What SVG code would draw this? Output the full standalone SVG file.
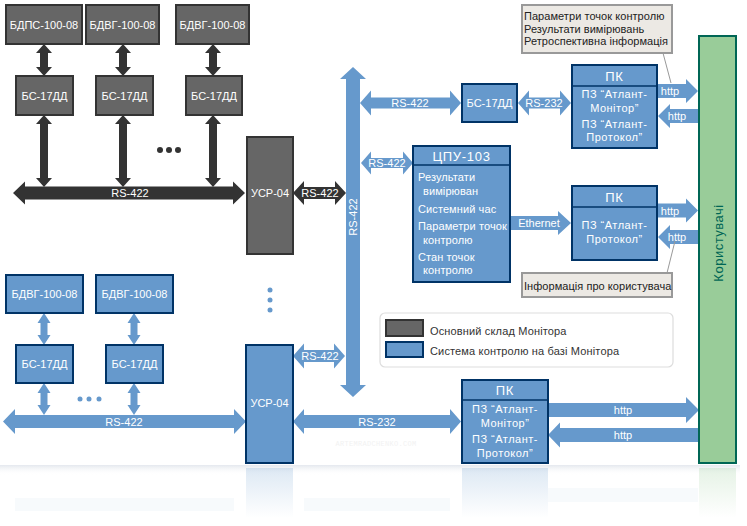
<svg xmlns="http://www.w3.org/2000/svg" width="747" height="526" viewBox="0 0 747 526">
<defs>
<style>
.dk{fill:#666;stroke:#333;stroke-width:2}
.bl{fill:#6699cc;stroke:#003366;stroke-width:2}
.da{fill:#333}
.ba{fill:#6699cc}
.t{font-family:"Liberation Sans",Arial,sans-serif;font-size:11px;fill:#fff;text-anchor:middle;dominant-baseline:central}
.tl{font-family:"Liberation Sans",Arial,sans-serif;font-size:11px;fill:#fff;dominant-baseline:central;letter-spacing:0.1px}
.pk{font-family:"Liberation Sans",Arial,sans-serif;font-size:11px;fill:#fff;text-anchor:middle;dominant-baseline:central;letter-spacing:0.5px}
.hd{font-family:"Liberation Sans",Arial,sans-serif;font-size:13px;fill:#fff;text-anchor:middle;dominant-baseline:central;letter-spacing:0.7px}
.co{fill:#ece9e4;stroke:#999;stroke-width:2}
.ct{font-family:"Liberation Sans",Arial,sans-serif;font-size:11px;fill:#222;dominant-baseline:central;letter-spacing:0.05px}
.lg{font-family:"Liberation Sans",Arial,sans-serif;font-size:11px;fill:#333;dominant-baseline:central;letter-spacing:0.15px}
</style>
<linearGradient id="rf" x1="0" y1="0" x2="0" y2="1">
<stop offset="0" stop-color="#6699cc" stop-opacity="0.22"/>
<stop offset="1" stop-color="#6699cc" stop-opacity="0"/>
</linearGradient>
<linearGradient id="rg" x1="0" y1="0" x2="0" y2="1">
<stop offset="0" stop-color="#99cc99" stop-opacity="0.25"/>
<stop offset="1" stop-color="#99cc99" stop-opacity="0"/>
</linearGradient>
<linearGradient id="sh" x1="0" y1="0" x2="0" y2="1">
<stop offset="0" stop-color="#e4e8ee" stop-opacity="1"/>
<stop offset="1" stop-color="#ffffff" stop-opacity="0"/>
</linearGradient>
</defs>
<rect width="747" height="526" fill="#fff"/>

<g id="reflection">
<rect x="0" y="465" width="740" height="10" fill="url(#sh)"/>
<rect x="246" y="468" width="47" height="50" fill="url(#rf)"/>
<rect x="462" y="468" width="86" height="50" fill="url(#rf)"/>
<rect x="699" y="468" width="37" height="50" fill="url(#rg)"/>
<rect x="15" y="498" width="219" height="13" fill="#6699cc" opacity="0.05"/>
<rect x="304" y="498" width="146" height="13" fill="#6699cc" opacity="0.05"/>
<rect x="548" y="488" width="150" height="14" fill="#6699cc" opacity="0.05"/>
</g>

<g id="connectors">
<polygon class="da" points="44,44 52,53 48,53 48,67 52,67 44,76 36,67 40,67 40,53 36,53"/>
<polygon class="da" points="123,44 131,53 127,53 127,67 131,67 123,76 115,67 119,67 119,53 115,53"/>
<polygon class="da" points="213,44 221,53 217,53 217,67 221,67 213,76 205,67 209,67 209,53 205,53"/>
<polygon class="da" points="44,115 52,124 48,124 48,178 52,178 44,187 36,178 40,178 40,124 36,124"/>
<polygon class="da" points="123,115 131,124 127,124 127,178 131,178 123,187 115,178 119,178 119,124 115,124"/>
<polygon class="da" points="213,115 221,124 217,124 217,178 221,178 213,187 205,178 209,178 209,124 205,124"/>
<polygon class="da" points="13,193 25,181.5 25,186.5 233,186.5 233,181.5 245,193 233,204.5 233,199.5 25,199.5 25,204.5"/>
<text class="t" x="130" y="193">RS-422</text>
<polygon class="da" points="293,193 304,181 304,187 335,187 335,181 346,193 335,205 335,199 304,199 304,205"/>
<text class="t" x="320" y="193">RS-422</text>
<polygon class="ba" points="353,67 366,79 360,79 360,385 366,385 353,397 340,385 346,385 346,79 340,79"/>
<text class="t" x="353" y="217" transform="rotate(-90 353 217)">RS-422</text>
<polygon class="ba" points="360,103 371,90.5 371,97.5 450,97.5 450,90.5 461,103 450,115.5 450,108.5 371,108.5 371,115.5"/>
<text class="t" x="410" y="103">RS-422</text>
<polygon class="ba" points="518,103 529,90.5 529,97.5 560,97.5 560,90.5 571,103 560,115.5 560,108.5 529,108.5 529,115.5"/>
<text class="t" x="544" y="103">RS-232</text>
<polygon class="ba" points="361,163 371,151.5 371,158 403,158 403,151.5 413,163 403,174.5 403,168 371,168 371,174.5"/>
<text class="t" x="387" y="163">RS-422</text>
<polygon class="ba" points="510,216 558,216 558,211 571,223 558,235 558,230 510,230"/>
<text class="t" x="539" y="223">Ethernet</text>
<polygon class="ba" points="657,84 686,84 686,79 698,91 686,103 686,98 657,98"/>
<text class="t" x="670" y="91">http</text>
<polygon class="ba" points="658,116 670,104 670,109 699,109 699,123 670,123 670,128"/>
<text class="t" x="677" y="116">http</text>
<polygon class="ba" points="657,203.5 686,203.5 686,198.5 698,210.5 686,222.5 686,217.5 657,217.5"/>
<text class="t" x="670" y="210.5">http</text>
<polygon class="ba" points="658,237 670,225 670,230 699,230 699,244 670,244 670,249"/>
<text class="t" x="677" y="237">http</text>
<polygon class="ba" points="44,313 50.5,323 47.5,323 47.5,335 50.5,335 44,345 37.5,335 40.5,335 40.5,323 37.5,323"/>
<polygon class="ba" points="134,313 140.5,323 137.5,323 137.5,335 140.5,335 134,345 127.5,335 130.5,335 130.5,323 127.5,323"/>
<polygon class="ba" points="44,383 50.5,393 47.5,393 47.5,405 50.5,405 44,415 37.5,405 40.5,405 40.5,393 37.5,393"/>
<polygon class="ba" points="134,383 140.5,393 137.5,393 137.5,405 140.5,405 134,415 127.5,405 130.5,405 130.5,393 127.5,393"/>
<polygon class="ba" points="3,421.5 15,409 15,415 234,415 234,409 246,421.5 234,434 234,428 15,428 15,434"/>
<text class="t" x="124" y="422">RS-422</text>
<polygon class="ba" points="293,356 304,343.5 304,350 334,350 334,343.5 345,356 334,368.5 334,362 304,362 304,368.5"/>
<text class="t" x="320" y="356">RS-422</text>
<polygon class="ba" points="293,421.5 304,409 304,415 450,415 450,409 461,421.5 450,434 450,428 304,428 304,434"/>
<text class="t" x="377" y="422">RS-232</text>
<polygon class="ba" points="548,403 686,403 686,397 699,410 686,423 686,417 548,417"/>
<text class="t" x="623" y="410">http</text>
<polygon class="ba" points="548,435 560,422.5 560,428 699,428 699,442 560,442 560,447.5"/>
<text class="t" x="623" y="435">http</text>
<line x1="663" y1="53" x2="671" y2="83" stroke="#999" stroke-width="1"/>
<line x1="667" y1="273" x2="675" y2="241" stroke="#999" stroke-width="1"/>
<circle cx="160" cy="150" r="3" fill="#333"/><circle cx="169" cy="150" r="3" fill="#333"/><circle cx="178" cy="150" r="3" fill="#333"/>
<circle cx="80" cy="399" r="2.5" fill="#6699cc"/><circle cx="89" cy="399" r="2.5" fill="#6699cc"/><circle cx="99" cy="399" r="2.5" fill="#6699cc"/>
<circle cx="270" cy="290" r="2.5" fill="#6699cc"/><circle cx="270" cy="300" r="2.5" fill="#6699cc"/><circle cx="270" cy="310" r="2.5" fill="#6699cc"/>
</g>

<g id="n-bdps"><rect class="dk" x="6" y="5" width="76" height="39"/><text class="t" x="44" y="25">БДПС-100-08</text></g>
<g id="n-bdvg1"><rect class="dk" x="86" y="5" width="73" height="39"/><text class="t" x="122.5" y="25">БДВГ-100-08</text></g>
<g id="n-bdvg2"><rect class="dk" x="176" y="5" width="73" height="39"/><text class="t" x="212.5" y="25">БДВГ-100-08</text></g>
<g id="n-bs1"><rect class="dk" x="16" y="76" width="57" height="39"/><text class="t" x="44.5" y="96">БС-17ДД</text></g>
<g id="n-bs2"><rect class="dk" x="96" y="76" width="57" height="39"/><text class="t" x="124.5" y="96">БС-17ДД</text></g>
<g id="n-bs3"><rect class="dk" x="186" y="76" width="56" height="39"/><text class="t" x="214" y="96">БС-17ДД</text></g>
<g id="n-usr1"><rect class="dk" x="247" y="137" width="46" height="117"/><text class="t" x="270" y="193">УСР-04</text></g>

<g id="n-bs-top"><rect class="bl" x="462" y="84" width="55" height="38"/><text class="t" x="489.5" y="103">БС-17ДД</text></g>
<g id="n-pk1"><rect class="bl" x="572" y="65" width="85" height="83"/><line x1="572" y1="86" x2="657" y2="86" stroke="#003366" stroke-width="1.5"/>
<text class="hd" x="614.5" y="76">ПК</text>
<text class="pk" x="614.5" y="94">ПЗ “Атлант-</text><text class="pk" x="614.5" y="108">Монітор”</text>
<text class="pk" x="614.5" y="124">ПЗ “Атлант-</text><text class="pk" x="614.5" y="137">Протокол”</text></g>
<g id="n-cpu"><rect class="bl" x="413" y="146" width="97" height="136"/><line x1="413" y1="165" x2="510" y2="165" stroke="#003366" stroke-width="1.5"/>
<text class="hd" x="461.5" y="156.5">ЦПУ-103</text>
<text class="tl" x="418" y="177">Результати</text><text class="tl" x="423" y="191">вимірюван</text>
<text class="tl" x="418" y="209">Системний час</text>
<text class="tl" x="418" y="226">Параметри точок</text><text class="tl" x="423" y="240">контролю</text>
<text class="tl" x="418" y="257">Стан  точок</text><text class="tl" x="423" y="270">контролю</text></g>
<g id="n-pk2"><rect class="bl" x="572" y="186" width="85" height="74"/><line x1="572" y1="207" x2="657" y2="207" stroke="#003366" stroke-width="1.5"/>
<text class="hd" x="614.5" y="197">ПК</text>
<text class="pk" x="614.5" y="225">ПЗ “Атлант-</text><text class="pk" x="614.5" y="239">Протокол”</text></g>

<g id="n-callout1"><rect class="co" x="522" y="5" width="150" height="48"/>
<text class="ct" x="524" y="16">Параметри точок контролю</text>
<text class="ct" x="524" y="29">Результати вимірювань</text>
<text class="ct" x="524" y="41">Ретроспективна інформація</text></g>
<g id="n-callout2"><rect class="co" x="522" y="273" width="150" height="24"/>
<text class="ct" x="524" y="286">Інформація про користувача</text></g>

<g id="n-users"><rect x="699" y="36" width="37" height="427" fill="#99cc99" stroke="#006655" stroke-width="2"/>
<text x="718" y="243" transform="rotate(-90 718 243)" font-family="Liberation Sans, Arial, sans-serif" font-size="13" fill="#006655" text-anchor="middle" dominant-baseline="central" letter-spacing="0.5">Користувачі</text></g>

<g id="n-bdvg3"><rect class="bl" x="6" y="275" width="77" height="38"/><text class="t" x="44.5" y="294">БДВГ-100-08</text></g>
<g id="n-bdvg4"><rect class="bl" x="96" y="275" width="77" height="38"/><text class="t" x="134.5" y="294">БДВГ-100-08</text></g>
<g id="n-bs4"><rect class="bl" x="16" y="345" width="57" height="38"/><text class="t" x="44.5" y="364">БС-17ДД</text></g>
<g id="n-bs5"><rect class="bl" x="106" y="345" width="57" height="38"/><text class="t" x="134.5" y="364">БС-17ДД</text></g>
<g id="n-usr2"><rect class="bl" x="246" y="345" width="47" height="118"/><text class="t" x="269.5" y="403">УСР-04</text></g>
<g id="n-pk3"><rect class="bl" x="462" y="380" width="86" height="83"/><line x1="462" y1="400" x2="548" y2="400" stroke="#003366" stroke-width="1.5"/>
<text class="hd" x="505" y="390">ПК</text>
<text class="pk" x="505" y="409">ПЗ “Атлант-</text><text class="pk" x="505" y="423">Монітор”</text>
<text class="pk" x="505" y="439">ПЗ “Атлант-</text><text class="pk" x="505" y="453">Протокол”</text></g>

<g id="legend"><rect x="380" y="313" width="293" height="54" rx="5" fill="#fff" stroke="#ddd" stroke-width="1.2"/>
<rect class="dk" x="386" y="320" width="37" height="16" stroke-width="1.5"/>
<rect class="bl" x="386" y="342" width="37" height="15" stroke-width="1.5"/>
<text class="lg" x="430" y="331">Основний склад Монітора</text>
<text class="lg" x="430" y="351">Система контролю на базі Монітора</text></g>

<text x="376" y="446" font-family="Liberation Mono, monospace" font-size="7" fill="#f2f2f2" text-anchor="middle" letter-spacing="0.3">ARTEMRADCHENKO.COM</text>
</svg>
